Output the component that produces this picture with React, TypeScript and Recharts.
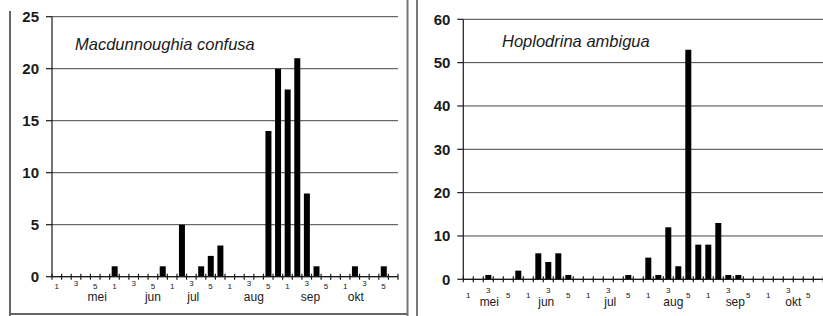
import { BarChart, Bar, XAxis, YAxis, CartesianGrid } from "recharts"

// pentads (5-day periods) per month, mei..okt
const months = ["mei", "jun", "jul", "aug", "sep", "okt"]
const pentads = ["1", "2", "3", "4", "5", "6"]
const pentadTickLabels = ["1", "", "3", "", "5", ""]
const categories = months.flatMap((m) => pentads.map((p) => `${m}-${p}`))

const confusaCounts = [
  0, 0, 0, 0, 0, 0,
  1, 0, 0, 0, 0, 1,
  0, 5, 0, 1, 2, 3,
  0, 0, 0, 0, 14, 20,
  18, 21, 8, 1, 0, 0,
  0, 1, 0, 0, 1, 0,
]
const ambiguaCounts = [
  0, 0, 1, 0, 0, 2,
  0, 6, 4, 6, 1, 0,
  0, 0, 0, 0, 1, 0,
  5, 1, 12, 3, 53, 8,
  8, 13, 1, 1, 0, 0,
  0, 0, 0, 0, 0, 0,
]

const confusaTicks = [0, 5, 10, 15, 20, 25]
const ambiguaTicks = [0, 10, 20, 30, 40, 50, 60]

// where the month names sit, in category units (scan layout is a bit uneven)
const confusaMonthAt = [4.2, 10.0, 14.2, 20.5, 26.4, 31.1]
const ambiguaMonthAt = [2.1, 7.8, 14.2, 20.5, 26.7, 32.5]

const FONT = '"Liberation Sans", Arial, sans-serif'
const INK = "#1a1a1a"

function PentadTick(props: any) {
  const { x, y, index, band, monthAt, numDy, lift, monthDy } = props
  const label = pentadTickLabels[index % 6]
  const left = x - band / 2
  // the "3" labels sit a little higher, like superscripts over the month names
  const dy = label === "3" ? numDy - lift : numDy
  return (
    <g>
      <line x1={left} x2={left} y1={y - 3} y2={y + 3} stroke={INK} strokeWidth={1.2} />
      {index === categories.length - 1 && (
        <line x1={left + band} x2={left + band} y1={y - 3} y2={y + 3} stroke={INK} strokeWidth={1.2} />
      )}
      {label && (
        <text x={x} y={y + dy} textAnchor="middle" fontSize={8} fill={INK} fontFamily={FONT}>
          {label}
        </text>
      )}
      {monthAt.map((pos: number, m: number) =>
        Math.floor(pos) === index ? (
          <text
            key={m}
            x={x + (pos - index) * band}
            y={y + monthDy}
            textAnchor="middle"
            fontSize={12}
            fill={INK}
            fontFamily={FONT}
          >
            {months[m]}
          </text>
        ) : null
      )}
    </g>
  )
}

interface PentadChartProps {
  counts: number[]
  ticks: number[]
  monthAt: number[]
  width: number
  margin: { top: number; right: number; bottom: number; left: number }
  numDy: number
  lift: number
  monthDy: number
}

function PentadChart({ counts, ticks, monthAt, width, margin, numDy, lift, monthDy }: PentadChartProps) {
  const data = categories.map((cat, i) => ({ cat, n: counts[i] }))
  const yWidth = 40
  const band = (width - margin.left - margin.right - yWidth) / categories.length
  return (
    <BarChart width={width} height={316} data={data} margin={margin}>
      <CartesianGrid vertical={false} stroke="#444" strokeWidth={1} />
      <XAxis
        dataKey="cat"
        interval={0}
        height={30}
        tickSize={0}
        tickMargin={0}
        tickLine={false}
        axisLine={{ stroke: INK, strokeWidth: 1.2 }}
        tick={(p: any) => (
          <PentadTick {...p} band={band} monthAt={monthAt} numDy={numDy} lift={lift} monthDy={monthDy} />
        )}
      />
      <YAxis
        width={yWidth}
        domain={[0, ticks[ticks.length - 1]]}
        ticks={ticks}
        interval={0}
        tickSize={6}
        tickMargin={7}
        axisLine={{ stroke: INK, strokeWidth: 1.2 }}
        tickLine={{ stroke: INK, strokeWidth: 1.2 }}
        tick={{ fontSize: 15, fontWeight: "bold", fill: INK, fontFamily: FONT }}
      />
      <Bar dataKey="n" fill="#000" barSize={6} isAnimationActive={false} />
    </BarChart>
  )
}

export default function App() {
  return (
    <div
      style={{
        position: "absolute",
        left: 0,
        top: 0,
        width: 823,
        height: 316,
        overflow: "hidden",
        background: "#fff",
      }}
    >
      <div style={{ position: "absolute", left: 0, top: 0 }}>
        <PentadChart
          counts={confusaCounts}
          ticks={confusaTicks}
          monthAt={confusaMonthAt}
          width={410}
          margin={{ top: 16.7, right: 12, bottom: 9.3, left: 12 }}
          numDy={12}
          lift={3}
          monthDy={24}
        />
      </div>
      <div style={{ position: "absolute", left: 420, top: 0 }}>
        <PentadChart
          counts={ambiguaCounts}
          ticks={ambiguaTicks}
          monthAt={ambiguaMonthAt}
          width={403.3}
          margin={{ top: 19.3, right: 0, bottom: 6.7, left: 3.3 }}
          numDy={19}
          lift={5}
          monthDy={27}
        />
      </div>
      <svg
        width={823}
        height={316}
        style={{ position: "absolute", left: 0, top: 0, pointerEvents: "none" }}
      >
        <line x1={10} x2={10} y1={11} y2={316} stroke="#666" strokeWidth={2} />
        <line x1={9} x2={408} y1={314} y2={314} stroke="#666" strokeWidth={2} />
        <line x1={407.5} x2={407.5} y1={0} y2={316} stroke="#777" strokeWidth={2} />
        <line x1={417} x2={417} y1={0} y2={316} stroke="#777" strokeWidth={2} />
        <text x={75} y={50} fontSize={16.5} fontStyle="italic" fill={INK} fontFamily={FONT}>
          Macdunnoughia confusa
        </text>
        <text x={502} y={47.3} fontSize={16.5} fontStyle="italic" fill={INK} fontFamily={FONT}>
          Hoplodrina ambigua
        </text>
      </svg>
    </div>
  )
}
